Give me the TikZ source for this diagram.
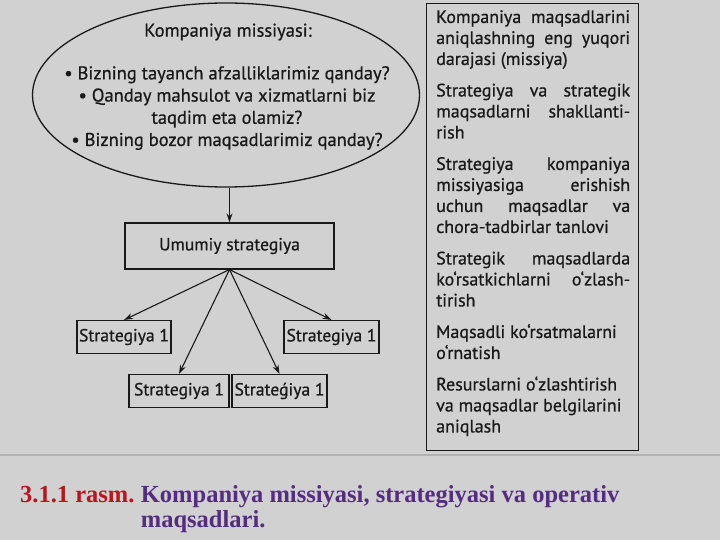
\documentclass[tikz,border=0pt]{standalone}
\usepackage{fontspec}
\setmainfont{PT Sans}[FakeBold=0.7]
\newfontfamily\capfont{Liberation Serif}
\usetikzlibrary{arrows.meta,shapes.geometric}

\definecolor{scangray}{RGB}{209,209,209}
\definecolor{capred}{RGB}{186,20,30}
\definecolor{cappurple}{RGB}{84,44,128}
\definecolor{inkblack}{RGB}{25,25,25}
\setlength{\parindent}{0pt}

\begin{document}
\begin{tikzpicture}[x=1pt,y=-1pt]

    % Define styles
    \tikzset{
        scan line/.style={line width=1.1pt, draw=inkblack},
        flow arrow/.style={scan line, -{Stealth[length=9pt,width=6pt]}},
        mission shape/.style={ellipse, scan line, line width=1.3pt, minimum width=387pt, minimum height=184pt, inner sep=0pt},
        mission text/.style={font=\fontsize{18.5}{22.2}\selectfont, align=center, text=inkblack, inner sep=0pt},
        strat box/.style={rectangle, scan line, font=\fontsize{17.6}{20}\selectfont, text=inkblack, minimum height=33pt, inner sep=2pt},
        goal text/.style={font=\fontsize{18}{21}\selectfont, text width=194pt, align=justify, inner sep=0pt, text=inkblack},
        caption text/.style={font=\capfont\bfseries\fontsize{24.5}{25}\selectfont, inner sep=0pt, anchor=base west},
        sep line/.style={line width=1.2pt, draw=black!30}
    }

    % Page background
    \fill[scangray] (0,0) rectangle (720,540);
    \useasboundingbox (0,0) rectangle (720,540);

    % Mission ellipse and its questions
    \node[mission shape] (mission) at (226,95) {};
    \node[mission text] (missionhead) at (228,32) {Kompaniya missiyasi:};
    \node[mission text, anchor=north] (missionlist) at (227,66) {%
        • Bizning tayanch afzalliklarimiz qanday?\\
        • Qanday mahsulot va xizmatlarni biz\\
        taqdim eta olamiz?\\
        • Bizning bozor maqsadlarimiz qanday?};

    % General strategy and the strategies below it
    \node[strat box, minimum width=209pt, minimum height=46pt] (general) at (229.5,246) {Umumiy strategiya};
    \node[strat box, minimum width=94pt] (strat1) at (124,337) {Strategiya 1};
    \node[strat box, minimum width=100pt] (strat2) at (179,391) {Strategiya 1};
    \node[strat box, minimum width=95pt] (strat3) at (279.5,391) {Strateǵiya 1};
    \node[strat box, minimum width=95pt] (strat4) at (331.5,337) {Strategiya 1};

    % Arrows
    \draw[flow arrow] (general.north |- mission.south) -- (general.north);
    \foreach \s in {strat1,strat2,strat3,strat4} {
        \draw[flow arrow] (general.south) -- (\s.north);
    }

    % Levels of the goals (right frame)
    \node[scan line, rectangle, minimum width=212pt, minimum height=447pt, anchor=north west] (goalframe) at (426,3) {};
    \node[goal text, anchor=north west] (goals) at (436,10) {%
        \hyphenpenalty=10000 \tolerance=10000
        Kompaniya maqsadlarini\linebreak aniqlashning eng yuqori\linebreak darajasi (missiya)\par\vspace{10.5pt}
        Strategiya va strategik\linebreak maqsadlarni shakllanti-\linebreak rish\par\vspace{10.5pt}
        Strategiya kompaniya\linebreak missiyasiga erishish\linebreak uchun maqsadlar va\linebreak chora-tadbirlar tanlovi\par\vspace{10.5pt}
        Strategik maqsadlarda\linebreak ko‘rsatkichlarni o‘zlash-\linebreak tirish\par\vspace{10.5pt}
        Maqsadli ko‘rsatmalarni\\ o‘rnatish\par\vspace{10.5pt}
        Resurslarni o‘zlashtirish\\ va maqsadlar belgilarini\\ aniqlash};

    % Separator under the scan
    \draw[sep line] (0,455) -- (720,455);
    \draw[line width=0.6pt, draw=black!18] (0,461) -- (720,461);

    % Caption
    \node[caption text, text=capred] (capnum) at (20,502) {3.1.1 rasm.};
    \node[caption text, text=cappurple] (captext) at ([xshift=6pt]capnum.base east) {Kompaniya missiyasi, strategiyasi va operativ};
    \node[caption text, text=cappurple] (capmore) at ([yshift=-25pt]captext.base west) {maqsadlari.};

\end{tikzpicture}
\end{document}
